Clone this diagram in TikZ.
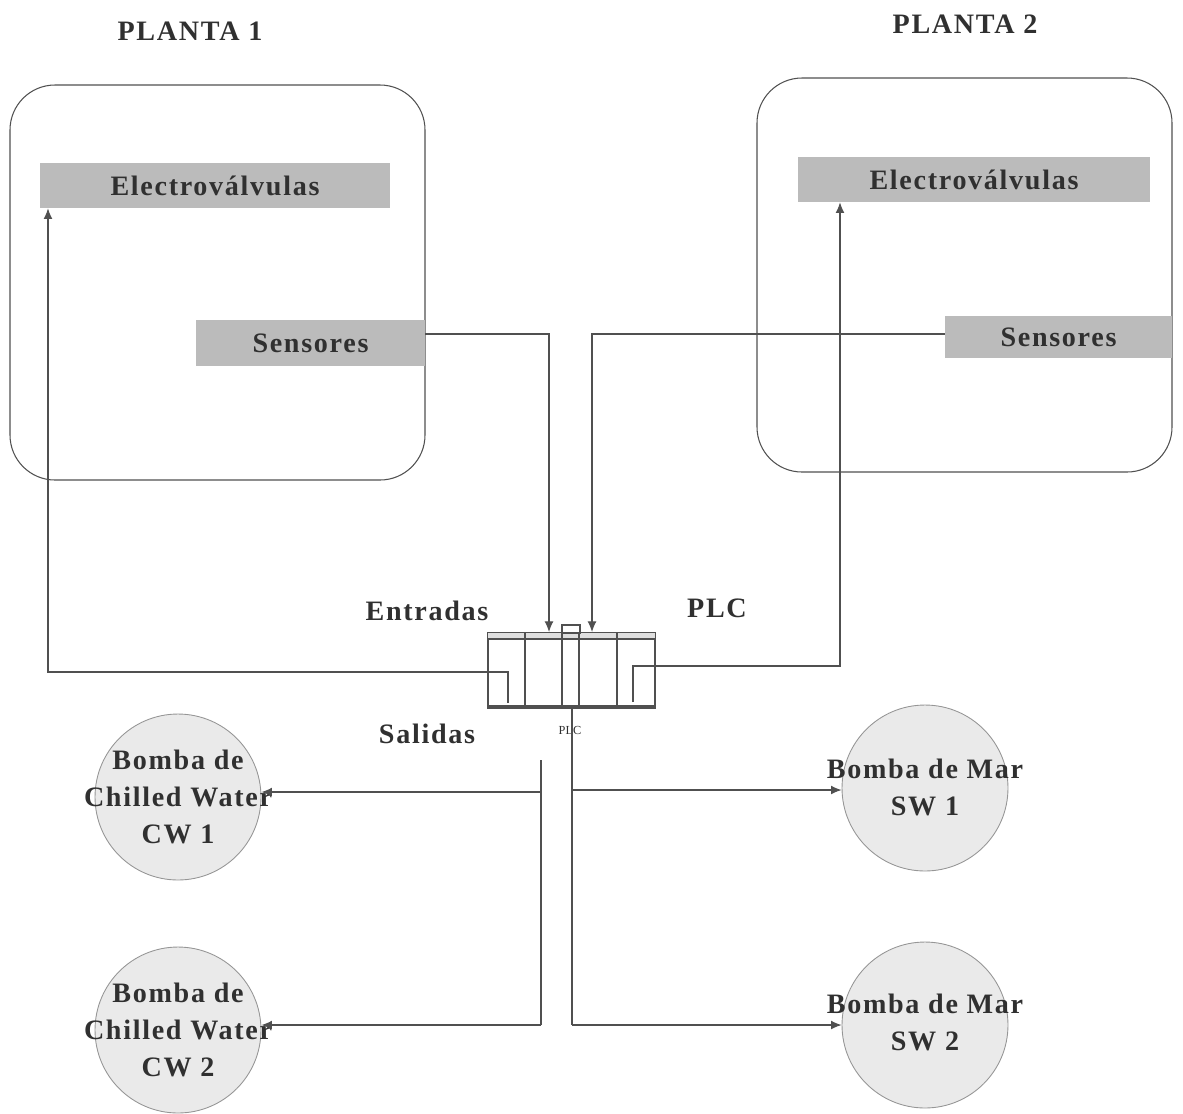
\documentclass[tikz,border=0pt]{standalone}
\usepackage{fontspec}
\setmainfont{Liberation Serif}
\newfontfamily\lblfont[LetterSpace=6]{Liberation Serif}
\usetikzlibrary{arrows.meta}
\definecolor{boxgray}{HTML}{BBBBBB}
\definecolor{circgray}{HTML}{EAEAEA}
\definecolor{txt}{HTML}{303030}
\definecolor{ln}{HTML}{505050}
\begin{document}
\begin{tikzpicture}[x=0.02cm,y=-0.02cm,
  lbl/.style={font=\lblfont\bfseries\fontsize{16}{21}\selectfont, text=txt, inner sep=0pt},
  gbox/.style={fill=boxgray, draw=none, lbl},
  plant/.style={draw=ln, line width=0.6pt, rounded corners=0.9cm},
  pump/.style={circle, draw=ln!60, fill=circgray, line width=0.5pt, minimum size=3.32cm, inner sep=0pt},
  wire/.style={draw=ln, line width=0.6pt},
  arr/.style={wire, -{Latex[length=6pt,width=5pt]}}]
\useasboundingbox (0,0) rectangle (1183,1113);

% titles
\node[lbl] (t1) at (190,31) {PLANTA 1};
\node[lbl] (t2) at (965,24) {PLANTA 2};

% plants
\draw[plant] (10,85) rectangle (425,480);
\draw[plant] (757,78) rectangle (1172,472);

% gray boxes
\node[gbox, minimum width=7cm, minimum height=0.9cm] (ev1) at (215,185.5) {Electroválvulas};
\node[gbox, minimum width=4.58cm, minimum height=0.92cm] (sens1) at (310.5,343) {Sensores};
\node[gbox, minimum width=7.04cm, minimum height=0.9cm] (ev2) at (974,179.5) {Electroválvulas};
\node[gbox, minimum width=4.54cm, minimum height=0.84cm] (sens2) at (1058.5,337) {Sensores};

% PLC
\node[draw=ln, line width=0.6pt, minimum width=3.34cm, minimum height=1.5cm, inner sep=0pt] (plc) at (571.5,670.5) {};
\fill[gray!25] (488,633) rectangle (655,639);
\draw[wire] (488,639) -- (655,639);
\foreach \xx in {525,562,579,617} \draw[wire] (\xx,633) -- (\xx,708);
\draw[wire] (562,625) rectangle (580,633);
\draw[ln, line width=2.2pt] (488,707) -- (655,707);
\node[font=\fontsize{7}{8}\selectfont, text=txt] (plcsmall) at (570,730) {PLC};

\coordinate (in1) at (549,632);
\coordinate (in2) at (592,632);
\coordinate (o1a) at (508,703);
\coordinate (o1b) at (508,672);
\coordinate (o2a) at (633,702);
\coordinate (o2b) at (633,666);

% labels
\node[lbl] (entr) at (427,611) {Entradas};
\node[lbl] (plclbl) at (717,608) {PLC};
\node[lbl] (sal) at (427,734) {Salidas};

% inputs
\draw[arr] (sens1.east |- 0,334) -| (in1);
\draw[arr] (sens2.west |- 0,334) -| (in2);

% outputs to valves
\draw[arr] (o1a) -- (o1b) -| (ev1.south -| 48,0);
\draw[arr] (o2a) -- (o2b) -| (ev2.south -| 840,0);

% pumps
\node[pump] (cw1) at (178,797) {};
\node[lbl, align=center] (cw1t) at (cw1) {Bomba de\\Chilled Water\\CW 1};
\node[pump] (cw2) at (178,1030) {};
\node[lbl, align=center] (cw2t) at (cw2) {Bomba de\\Chilled Water\\CW 2};
\node[pump] (sw1) at (925,788) {};
\node[lbl, align=center] (sw1t) at (925,787) {Bomba de Mar\\SW 1};
\node[pump] (sw2) at (925,1025) {};
\node[lbl, align=center] (sw2t) at (925,1022) {Bomba de Mar\\SW 2};

% buses
\coordinate (bl1) at (541,760);
\coordinate (bl2) at (541,792);
\coordinate (bl3) at (541,1025);
\coordinate (br2) at (572,790);
\coordinate (br3) at (572,1025);
\draw[wire] (bl1) -- (bl3);
\draw[wire] (plc.south -| br2) -- (br3);
\draw[arr] (bl2) -- (bl2 -| cw1.east);
\draw[arr] (bl3) -- (bl3 -| cw2.east);
\draw[arr] (br2) -- (br2 -| sw1.west);
\draw[arr] (br3) -- (br3 -| sw2.west);
\end{tikzpicture}
\end{document}
